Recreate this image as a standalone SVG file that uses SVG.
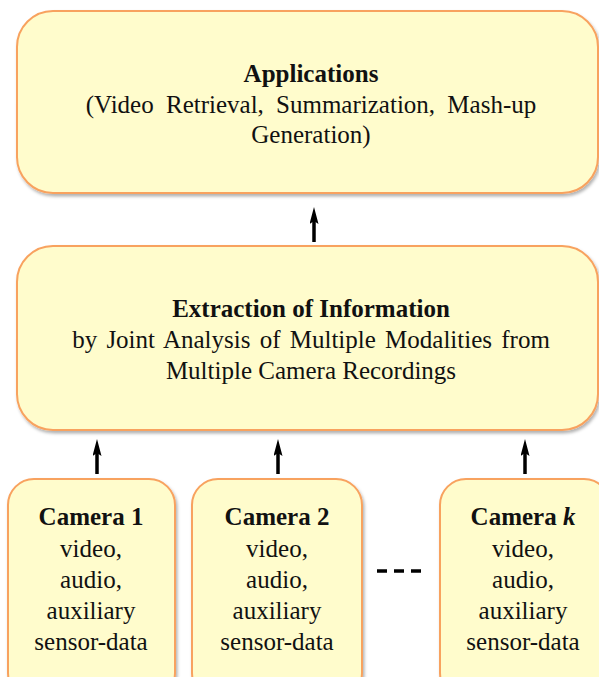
<svg xmlns="http://www.w3.org/2000/svg" width="599" height="677" viewBox="0 0 599 677">
<style>
.box{fill:#FFFCCC;stroke:#F8A25E;stroke-width:2;filter:url(#sh)}
text{font-family:"Liberation Serif","Times New Roman",serif;fill:#111;text-anchor:middle}
.b{font-weight:bold}
.t{font-size:25px}
.c{font-size:25px}
.conn line{stroke:#000;stroke-width:3.5}
</style>
<defs>
<filter id="sh" x="-5%" y="-5%" width="115%" height="115%">
<feDropShadow dx="1.5" dy="2.5" stdDeviation="1.5" flood-color="#000" flood-opacity="0.3"/>
</filter>
<marker id="ah" viewBox="0 0 17 9" refX="7" refY="4.5" markerWidth="17" markerHeight="9" markerUnits="userSpaceOnUse" orient="auto">
<path d="M0,0 L17,4.5 L0,9 L3,4.5 Z" fill="#000"/>
</marker>
</defs>
<g id="applications">
<rect class="box" x="17" y="11" width="581" height="182" rx="36"/>
<text class="t b" x="311" y="82">Applications</text>
<text class="t" x="311" y="113" word-spacing="6">(Video Retrieval, Summarization, Mash-up</text>
<text class="t" x="311" y="143">Generation)</text>
</g>
<g id="extraction">
<rect class="box" x="17" y="246" width="581" height="184" rx="36"/>
<text class="t b" x="311" y="317">Extraction of Information</text>
<text class="t" x="311" y="348" word-spacing="3">by Joint Analysis of Multiple Modalities from</text>
<text class="t" x="311" y="379">Multiple Camera Recordings</text>
</g>
<g id="camera1">
<rect class="box" x="8" y="479" width="167" height="220" rx="26"/>
<text class="c b" x="91" y="525">Camera 1</text>
<text class="c" x="91" y="557">video,</text>
<text class="c" x="91" y="588">audio,</text>
<text class="c" x="91" y="619">auxiliary</text>
<text class="c" x="91" y="650">sensor-data</text>
</g>
<g id="camera2">
<rect class="box" x="192" y="479" width="170" height="220" rx="26"/>
<text class="c b" x="277" y="525">Camera 2</text>
<text class="c" x="277" y="557">video,</text>
<text class="c" x="277" y="588">audio,</text>
<text class="c" x="277" y="619">auxiliary</text>
<text class="c" x="277" y="650">sensor-data</text>
</g>
<g id="camerak">
<rect class="box" x="440" y="479" width="170" height="220" rx="26"/>
<text class="c b" x="523" y="525">Camera <tspan font-style="italic">k</tspan></text>
<text class="c" x="523" y="557">video,</text>
<text class="c" x="523" y="588">audio,</text>
<text class="c" x="523" y="619">auxiliary</text>
<text class="c" x="523" y="650">sensor-data</text>
</g>
<g id="connectors" class="conn">
<line x1="314" y1="242" x2="314" y2="217" marker-end="url(#ah)"/>
<line x1="97" y1="474" x2="97" y2="449" marker-end="url(#ah)"/>
<line x1="278" y1="474" x2="278" y2="449" marker-end="url(#ah)"/>
<line x1="525" y1="474" x2="525" y2="449" marker-end="url(#ah)"/>
<line x1="377" y1="571" x2="426" y2="571" stroke-width="2" stroke-dasharray="10,7"/>
</g>
</svg>
